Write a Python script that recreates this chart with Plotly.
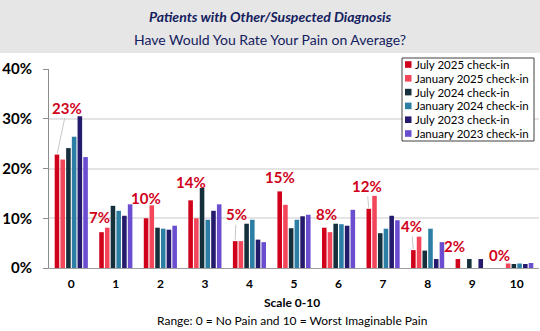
import plotly.graph_objects as go

# Pain rating scale categories
categories = [0, 1, 2, 3, 4, 5, 6, 7, 8, 9, 10]
tick_labels = ["0", "1", "2", "3", "4", "5", "6", "7", "8", "9", "10"]

# Share of patients (%) choosing each rating, by check-in wave
july_2025 = [22.8, 7.2, 10.0, 13.6, 5.4, 15.4, 8.1, 11.9, 3.6, 1.8, 0.0]
january_2025 = [21.8, 8.1, 12.6, 10.0, 5.4, 12.7, 7.2, 14.5, 6.3, 0.0, 0.9]
july_2024 = [24.1, 12.5, 8.1, 16.1, 8.9, 8.0, 8.9, 7.0, 3.5, 1.8, 0.8]
january_2024 = [26.4, 11.5, 7.9, 9.7, 9.7, 9.7, 8.8, 7.9, 7.9, 0.0, 0.9]
july_2023 = [30.5, 10.5, 7.7, 11.5, 5.7, 10.4, 8.5, 10.5, 1.8, 1.8, 0.8]
january_2023 = [22.3, 12.8, 8.5, 12.8, 5.2, 10.7, 11.7, 9.6, 5.2, 0.0, 1.0]

series_names = ["July 2025 check-in", "January 2025 check-in", "July 2024 check-in",
                "January 2024 check-in", "July 2023 check-in", "January 2023 check-in"]
series_values = [july_2025, january_2025, july_2024, january_2024, july_2023, january_2023]
series_colors = ["#D0021B", "#F4465B", "#15303C", "#2D7EA4", "#251B6C", "#6A4ECF"]

# Label placement for the July 2025 callouts: (dx, dy) pixel offset, leader line
label_offsets = [(10, -47, True), (-2, -15, False), (0, -20, False), (0, -18, False),
                 (1, -27, True), (0, -14, False), (2, -14, False), (-2, -23, True),
                 (-2, -24, True), (-3, -13, False), (-3, -13, False)]

FONT = "Lato"
NAVY = "#14205E"
LABEL_RED = "#D0021B"

W, H = 540, 331
M_L, M_R, M_T, M_B = 49, 1, 69, 63
PLOT_W = W - M_L - M_R
PLOT_H = H - M_T - M_B


def px_x(px):
    """Pixel column -> paper x."""
    return (px - M_L) / PLOT_W


def px_y(py):
    """Pixel row (from top) -> paper y."""
    return (H - M_B - py) / PLOT_H


fig = go.Figure()
for name, vals, col in zip(series_names, series_values, series_colors):
    fig.add_trace(go.Bar(
        x=categories, y=[v / 100 for v in vals], name=name,
        marker=dict(color=col, line=dict(width=0)), showlegend=False,
    ))

BARGAP = 0.23
n_series = len(series_names)
first_bar_offset = -(1 - BARGAP) / 2 + (1 - BARGAP) / (2 * n_series)

for c, v, (dx, dy, leader) in zip(categories, july_2025, label_offsets):
    fig.add_annotation(
        x=c + first_bar_offset, y=v / 100, xref="x", yref="y",
        text=f"<b>{round(v)}%</b>",
        font=dict(family=FONT, size=15, color=LABEL_RED),
        showarrow=leader, arrowhead=0, arrowwidth=1, arrowcolor="#C8C8C8",
        ax=dx, ay=dy, standoff=1,
        xshift=0 if leader else dx, yshift=0 if leader else -dy,
    )

# Header band
fig.add_shape(type="rect", xref="paper", yref="paper", x0=px_x(-5), x1=px_x(W + 5),
              y0=px_y(53), y1=px_y(-5), fillcolor="#E6E6E6", line=dict(width=0),
              layer="below")
fig.add_annotation(xref="paper", yref="paper", x=px_x(W / 2), y=px_y(17),
                   xanchor="center", yanchor="middle",
                   text="<b><i>Patients with Other/Suspected Diagnosis</i></b>",
                   showarrow=False, font=dict(family=FONT, size=14, color=NAVY))
fig.add_annotation(xref="paper", yref="paper", x=px_x(W / 2), y=px_y(39),
                   xanchor="center", yanchor="middle",
                   text="Have Would You Rate Your Pain on Average?",
                   showarrow=False, font=dict(family=FONT, size=14, color=NAVY))

# Axis captions
fig.add_annotation(xref="paper", yref="paper", x=px_x(W / 2 + 22), y=px_y(302),
                   xanchor="center", yanchor="middle",
                   text="<b>Scale 0-10</b>", showarrow=False,
                   font=dict(family=FONT, size=12, color="#000000"))
fig.add_annotation(xref="paper", yref="paper", x=px_x(W / 2 + 22), y=px_y(320),
                   xanchor="center", yanchor="middle",
                   text="Range: 0 = No Pain and 10 = Worst Imaginable Pain", showarrow=False,
                   font=dict(family=FONT, size=12, color="#000000"))

# Legend box with compact rows
LEG_X0, LEG_X1, LEG_Y0, LEG_Y1 = 402, 534, 58, 141
ROW0, ROW_STEP = 64.5, 13.8
fig.add_shape(type="rect", xref="paper", yref="paper",
              x0=px_x(LEG_X0), x1=px_x(LEG_X1), y0=px_y(LEG_Y1), y1=px_y(LEG_Y0),
              fillcolor="white", line=dict(color="#404040", width=1), layer="above")
for i, (name, col) in enumerate(zip(series_names, series_colors)):
    cy = ROW0 + i * ROW_STEP
    fig.add_shape(type="rect", xref="paper", yref="paper",
                  x0=px_x(405), x1=px_x(411.5), y0=px_y(cy + 3.3), y1=px_y(cy - 3.3),
                  fillcolor=col, line=dict(width=0), layer="above")
    fig.add_annotation(xref="paper", yref="paper", x=px_x(413), y=px_y(cy),
                       xanchor="left", yanchor="middle", text=name, showarrow=False,
                       font=dict(family=FONT, size=11.5, color="#000000"))

fig.update_layout(
    width=W, height=H,
    margin=dict(l=M_L, r=M_R, t=M_T, b=M_B),
    paper_bgcolor="white", plot_bgcolor="white",
    barmode="group", bargap=BARGAP, bargroupgap=0.2,
    font=dict(family=FONT, color="#000000"),
    showlegend=False,
    xaxis=dict(tickmode="array", tickvals=categories, ticktext=[f"<b>{t}</b>" for t in tick_labels],
               range=[-0.5, 10.5], showgrid=False, zeroline=False,
               showline=True, linecolor="#A0A0A0", linewidth=1,
               tickfont=dict(family=FONT, size=12, color="#000000"), ticks="",
               ticklabelstandoff=5),
    yaxis=dict(range=[0, 0.4], tickvals=[0, 0.1, 0.2, 0.3, 0.4],
               ticktext=["<b>0%</b>", "<b>10%</b>", "<b>20%</b>", "<b>30%</b>", "<b>40%</b>"],
               showgrid=True, gridcolor="#E4E4E4", gridwidth=2, zeroline=False,
               showline=True, linecolor="#8C8C8C", linewidth=1,
               ticks="outside", ticklen=5, tickcolor="#8C8C8C",
               tickfont=dict(family=FONT, size=15, color="#000000"), ticklabelstandoff=8),
)

fig.write_html("out.html")
